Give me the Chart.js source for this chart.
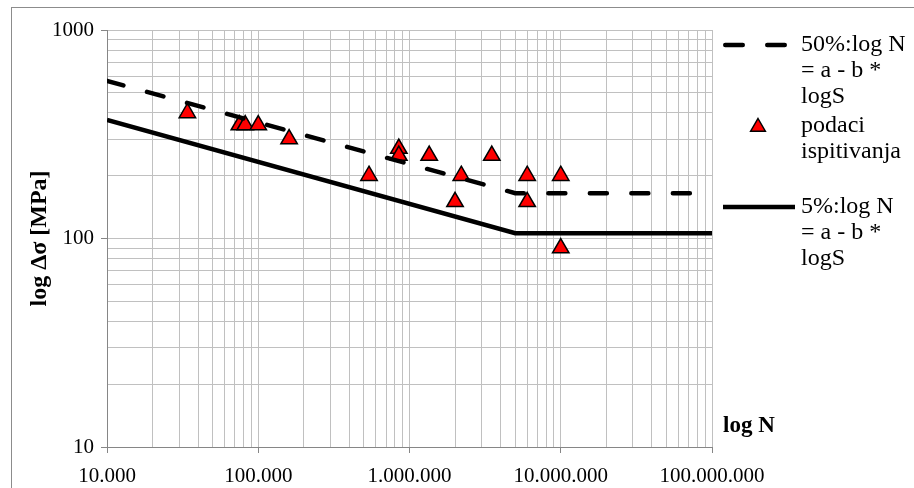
<!DOCTYPE html>
<html>
<head>
<meta charset="utf-8">
<script src="https://cdn.jsdelivr.net/npm/chart.js@4.4.1/dist/chart.umd.min.js"></script>
<style>
  html, body { margin: 0; padding: 0; background: #fff; }
</style>
</head>
<body>
<canvas id="chart" width="914" height="488"></canvas>
<script>
// axis ticks
const xMajorTicks = [10000, 100000, 1000000, 10000000, 100000000];
const xTickLabels = ['10.000', '100.000', '1.000.000', '10.000.000', '100.000.000'];
const yMajorTicks = [10, 100, 1000];
const yTickLabels = ['10', '100', '1000'];
const minorSteps = [1, 2, 3, 4, 5, 6, 7, 8, 9];

// design curves
const line50N = [10000, 5000000, 100000000];
const line50S = [570, 165, 165];
const line5N = [10000, 5000000, 100000000];
const line5S = [370, 106, 106];

// test results
const testN = [34000, 75000, 82000, 100000, 160000, 540000, 850000, 850000, 1350000, 2000000, 2200000, 3500000, 6000000, 6000000, 10000000, 10000000];
const testS = [400, 350, 350, 350, 300, 200, 270, 250, 250, 150, 200, 250, 200, 150, 200, 90];

const seriesLabels = ['50%:log N = a - b * logS', 'podaci ispitivanja', '5%:log N = a - b * logS'];
const legendLines = [
    ['50%:log N', '= a - b *', 'logS'],
    ['podaci', 'ispitivanja', ''],
    ['5%:log N', '= a - b *', 'logS'],
];
const xTitle = 'log N';
const yTitle = 'log Δσ [MPa]';

const FONT = "'Liberation Serif', 'Times New Roman', serif";
Chart.defaults.font.family = FONT;
Chart.defaults.color = '#000';

function logGrid(majors) {
    const out = [];
    majors.forEach((m, i) => {
        if (i === majors.length - 1) { out.push(m); return; }
        minorSteps.forEach((s) => out.push(m * s));
    });
    return out;
}

function makeIcon(draw) {
    const c = document.createElement('canvas');
    c.width = 86;
    c.height = 24;
    const g = c.getContext('2d');
    draw(g);
    return c;
}

const dashIcon = makeIcon((g) => {
    g.strokeStyle = '#000';
    g.lineWidth = 4.5;
    g.lineCap = 'round';
    g.beginPath();
    g.moveTo(16.25, 12); g.lineTo(33.75, 12);
    g.moveTo(58.25, 12); g.lineTo(75.75, 12);
    g.stroke();
});
const triIcon = makeIcon((g) => {
    const r = 8.5, cx = 49, cy = 13;
    g.beginPath();
    g.moveTo(cx, cy - r);
    g.lineTo(cx + r * 0.866, cy + r / 2);
    g.lineTo(cx - r * 0.866, cy + r / 2);
    g.closePath();
    g.fillStyle = '#ff0000';
    g.fill();
    g.lineWidth = 1.5;
    g.strokeStyle = '#000';
    g.stroke();
});
const solidIcon = makeIcon((g) => {
    g.strokeStyle = '#000';
    g.lineWidth = 4.5;
    g.lineCap = 'butt';
    g.beginPath();
    g.moveTo(14, 12); g.lineTo(86, 12);
    g.stroke();
});
const legendIcons = [dashIcon, triIcon, solidIcon];

const frameAndTitle = {
    id: 'frameAndTitle',
    beforeLayout(chart) {
        const lg = chart.legend;
        if (lg && !lg._fixedWidth) {
            const fit = lg.fit;
            lg.fit = function () { fit.call(this); this.width = 202; };
            lg._fixedWidth = true;
        }
    },
    beforeDraw(chart) {
        const ctx = chart.ctx;
        ctx.save();
        ctx.fillStyle = '#fff';
        ctx.fillRect(0, 0, chart.width, chart.height);
        ctx.strokeStyle = '#8c8c8c';
        ctx.lineWidth = 1;
        ctx.strokeRect(11.5, 7.5, 1000, 1000);
        ctx.restore();
    },
    afterDraw(chart) {
        const ctx = chart.ctx;
        const area = chart.chartArea;
        ctx.save();
        ctx.font = 'bold 23px ' + FONT;
        ctx.fillStyle = '#000';
        ctx.textAlign = 'left';
        ctx.textBaseline = 'middle';
        ctx.fillText(xTitle, area.right + 11, area.bottom - 21);
        ctx.restore();
    }
};

const isMajorX = (v) => xMajorTicks.indexOf(v) >= 0;
const isMajorY = (v) => yMajorTicks.indexOf(v) >= 0;

new Chart(document.getElementById('chart'), {
    type: 'scatter',
    data: {
        datasets: [
            {
                label: seriesLabels[0],
                data: line50N.map((n, i) => ({ x: n, y: line50S[i] })),
                showLine: true,
                borderColor: '#000',
                borderWidth: 4.5,
                borderDash: [17, 24.5],
                borderCapStyle: 'round',
                pointRadius: 0,
                pointHoverRadius: 0,
            },
            {
                label: seriesLabels[1],
                data: testN.map((n, i) => ({ x: n, y: testS[i] })),
                pointStyle: 'triangle',
                pointRadius: 9.5,
                pointHoverRadius: 9.5,
                backgroundColor: '#ff0000',
                borderColor: '#000',
                borderWidth: 1.5,
            },
            {
                label: seriesLabels[2],
                data: line5N.map((n, i) => ({ x: n, y: line5S[i] })),
                showLine: true,
                borderColor: '#000',
                borderWidth: 4.5,
                pointRadius: 0,
                pointHoverRadius: 0,
            },
        ],
    },
    options: {
        responsive: false,
        animation: false,
        layout: { padding: { top: 30, left: 0, right: 0, bottom: 0 } },
        plugins: {
            tooltip: { enabled: false },
            legend: {
                position: 'right',
                align: 'start',
                fullSize: false,
                labels: {
                    usePointStyle: true,
                    pointStyleWidth: 74,
                    padding: 3,
                    color: '#000',
                    font: { size: 24, lineHeight: '26px' },
                    generateLabels: (chart) => chart.data.datasets.map((ds, i) => ({
                        text: legendLines[i],
                        pointStyle: legendIcons[i],
                        datasetIndex: i,
                        hidden: false,
                        lineWidth: 0,
                        fillStyle: 'rgba(0,0,0,0)',
                        strokeStyle: 'rgba(0,0,0,0)',
                        fontColor: '#000',
                    })),
                },
            },
        },
        scales: {
            x: {
                type: 'logarithmic',
                min: 10000,
                max: 100000000,
                afterBuildTicks: (s) => { s.ticks = logGrid(xMajorTicks).map((v) => ({ value: v })); },
                afterFit: (s) => { s.height = 41; },
                ticks: {
                    autoSkip: false,
                    maxRotation: 0,
                    padding: 11,
                    font: { size: 21 },
                    color: '#000',
                    callback: (v) => (isMajorX(v) ? xTickLabels[xMajorTicks.indexOf(v)] : ''),
                },
                grid: {
                    color: '#c0c0c0',
                    lineWidth: 1,
                    tickLength: 6,
                    tickColor: (c) => (c.tick && isMajorX(c.tick.value) ? '#868686' : 'rgba(0,0,0,0)'),
                },
                border: { color: '#868686' },
            },
            y: {
                type: 'logarithmic',
                min: 10,
                max: 1000,
                afterBuildTicks: (s) => { s.ticks = logGrid(yMajorTicks).map((v) => ({ value: v })); },
                afterFit: (s) => { s.width = 107; },
                title: {
                    display: true,
                    text: yTitle,
                    color: '#000',
                    font: { size: 24, weight: 'bold' },
                    padding: { top: 25, bottom: 0 },
                },
                ticks: {
                    autoSkip: false,
                    padding: 7,
                    font: { size: 21 },
                    color: '#000',
                    callback: (v) => (isMajorY(v) ? yTickLabels[yMajorTicks.indexOf(v)] : ''),
                },
                grid: {
                    color: '#c0c0c0',
                    lineWidth: 1,
                    tickLength: 6,
                    tickColor: (c) => (c.tick && isMajorY(c.tick.value) ? '#868686' : 'rgba(0,0,0,0)'),
                },
                border: { color: '#868686' },
            },
        },
    },
    plugins: [frameAndTitle],
});
</script>
</body>
</html>
